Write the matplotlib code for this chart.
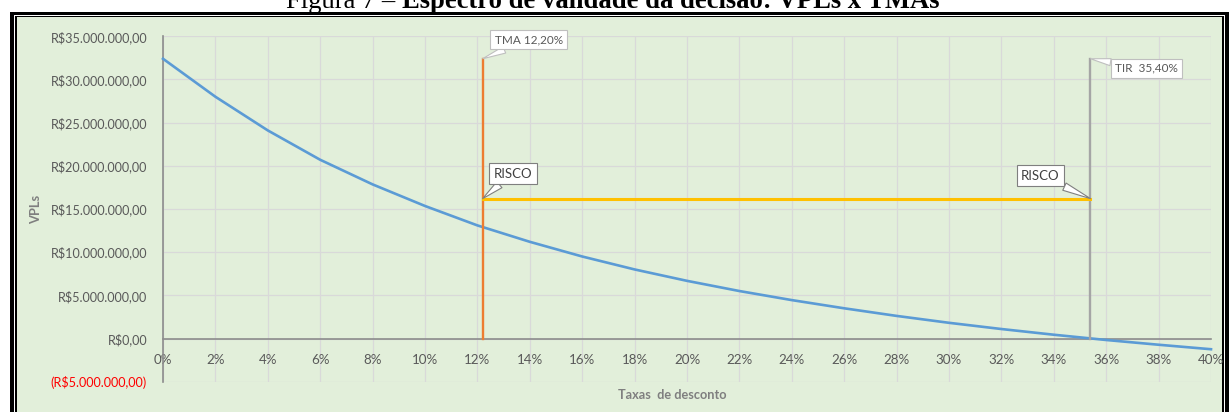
import numpy as np
import matplotlib.pyplot as plt
from matplotlib.patches import Rectangle

W, H = 1229, 412

# taxas de desconto (%) e VPL correspondente (R$)
taxas = [0, 2, 4, 6, 8, 10, 12, 14, 16, 18, 20, 22, 24, 26, 28, 30, 32, 34, 36, 38, 40]
vpl_mi = [32.4, 28.0, 24.1, 20.7, 17.85, 15.35, 13.1, 11.2, 9.5, 8.0, 6.68,
          5.5, 4.45, 3.5, 2.62, 1.82, 1.1, 0.44, -0.17, -0.72, -1.24]
vpl = np.array(vpl_mi) * 1e6

tma = 12.2
tir = 35.4
topo_marcas = 32.4e6
risco = 16.2e6

y_ticks = [-5e6, 0, 5e6, 10e6, 15e6, 20e6, 25e6, 30e6, 35e6]
x_ticks = list(range(0, 41, 2))

AZUL = '#5B9BD5'
LARANJA = '#ED7D31'
AMARELO = '#FFC000'
CINZA = '#A5A5A5'
VERDE = '#E2EFDA'
TEXTO = '#595959'

plt.rcParams['font.family'] = ['Lato', 'DejaVu Sans']


def reais(v):
    s = f"R${int(round(abs(v))):,}".replace(',', '.') + ',00'
    return f'({s})' if v < 0 else s


def px(x, y):
    # pixel (a partir do canto superior esquerdo) -> fração da figura
    return x / W, 1 - y / H


def faixa(x0, y0, x1, cor):
    # retângulo do pixel (x0, y0) até a borda inferior da figura
    fig.add_artist(Rectangle(px(x0, H), (x1 - x0) / W, (H - y0) / H,
                             transform=fig.transFigure, fc=cor, ec='none', zorder=-3))


fig = plt.figure(figsize=(W / 100, H / 100), dpi=100)
fig.patch.set_facecolor('white')

# moldura dupla e fundo verde
faixa(10, 12, 1229, 'black')
faixa(14, 15, 1225, 'white')
faixa(15, 16, 1224, 'black')
faixa(17, 17, 1222, VERDE)

# título (cortado no topo)
fig.text(*px(402, 8), 'Figura 7 – ', ha='right', va='baseline',
         family='Liberation Serif', fontsize=19.2, color='black')
fig.text(*px(402, 8), 'Espectro de validade da decisão: VPLs x TMAs', ha='left',
         va='baseline', family='Liberation Serif', fontsize=19.2, fontweight='bold',
         color='black')

ax = fig.add_axes([163 / W, 1 - 381.7 / H, (1211 - 163) / W, (381.7 - 36.3) / H])
ax.set_facecolor('none')
ax.set_xlim(0, 40)
ax.set_ylim(-5e6, 35e6)

ax.grid(True, color='#D9D9D9', linewidth=0.9)
ax.set_axisbelow(True)
for s in ('top', 'right'):
    ax.spines[s].set_visible(False)
ax.spines['bottom'].set_position(('data', 0))
for s in ('bottom', 'left'):
    ax.spines[s].set_color('#8C8C8C')
    ax.spines[s].set_linewidth(1.2)

ax.set_xticks(x_ticks, [f'{t}%' for t in x_ticks])
ax.set_yticks(y_ticks, [reais(v) for v in y_ticks])
ax.tick_params(axis='both', length=0, colors=TEXTO)
ax.tick_params(axis='x', pad=11, labelsize=9.6)
ax.tick_params(axis='y', pad=11.5, labelsize=9.1)
for v, lbl in zip(y_ticks, ax.get_yticklabels()):
    if v < 0:
        lbl.set_color('#FF0000')

# curva de VPL
ax.plot(taxas, vpl, color=AZUL, linewidth=1.9, zorder=3, clip_on=False)

# TMA, TIR e faixa de risco
ax.plot([tma, tma], [0, topo_marcas], color=LARANJA, linewidth=1.7, zorder=4)
ax.plot([tir, tir], [0, topo_marcas], color=CINZA, linewidth=1.7, zorder=4)
ax.plot([tma, tir], [risco, risco], color=AMARELO, linewidth=2.2, zorder=4)


def balao(texto, xy, dx, dy, cor_borda, cor_texto, tamanho):
    ax.annotate(texto, xy=xy, xytext=(dx, dy), textcoords='offset pixels',
                ha='center', va='center', fontsize=tamanho, color=cor_texto,
                bbox=dict(boxstyle='square,pad=0.35', fc='white', ec=cor_borda, lw=0.8),
                arrowprops=dict(arrowstyle='wedge,tail_width=0.6', fc='white',
                                ec=cor_borda, lw=0.8, shrinkA=0, shrinkB=0),
                zorder=6)


balao(f'TMA {tma:.2f}%'.replace('.', ','), (tma, topo_marcas), 46, 19, '#BFBFBF', TEXTO, 8.5)
balao(f'TIR  {tir:.2f}%'.replace('.', ','), (tir, topo_marcas), 56, -9.5, '#BFBFBF', TEXTO, 8.5)
balao('RISCO', (tma, risco), 30, 25, '#7F7F7F', '#404040', 9.5)
balao('RISCO', (tir, risco), -50, 23, '#7F7F7F', '#404040', 9.5)

fig.text(*px(36, 209), 'VPLs', rotation=90, ha='center', va='center',
         fontsize=9.3, fontweight='bold', color='#7F7F7F')
fig.text(*px(672, 395), 'Taxas  de desconto', ha='center', va='center',
         fontsize=9.2, fontweight='bold', color='#7F7F7F')

fig.savefig('out.png', dpi=100)
